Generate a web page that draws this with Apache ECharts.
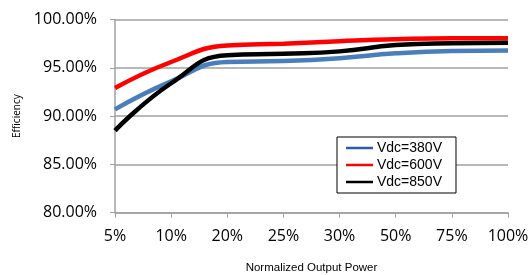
<!DOCTYPE html>
<html>
<head>
<meta charset="utf-8">
<script src="https://cdn.jsdelivr.net/npm/echarts@6/dist/echarts.min.js"></script>
<style>
  html, body { margin: 0; padding: 0; background: #fff; }
  #main { width: 530px; height: 275px; }
</style>
</head>
<body>
<div id="main"></div>
<script>
// normalized output power categories
const powerLevels = ['5%', '10%', '20%', '25%', '30%', '50%', '75%', '100%'];

// efficiency in percent
const vdc380 = [90.7, 93.6, 95.6, 95.7, 96.0, 96.5, 96.75, 96.8];
const vdc600 = [92.9, 95.6, 97.3, 97.5, 97.75, 97.95, 98.05, 98.05];
const vdc850 = [88.5, 93.4, 96.3, 96.45, 96.7, 97.35, 97.55, 97.6];

const seriesNames = ['Vdc=380V', 'Vdc=600V', 'Vdc=850V'];

const chart = echarts.init(document.getElementById('main'));

function lineSeries(name, data, color) {
  return {
    name: name,
    type: 'line',
    data: data,
    smooth: true,
    showSymbol: false,
    lineStyle: { color: color, width: 4.5 },
    itemStyle: { color: color },
    z: 3
  };
}

chart.setOption({
  animation: false,
  grid: {
    left: 115, right: 22, top: 19.5, bottom: 62.3,
    containLabel: false,
    outerBoundsMode: 'none'
  },
  legend: {
    orient: 'vertical',
    left: 337,
    top: 137,
    padding: [4, 14, 4, 9],
    itemGap: 3,
    itemWidth: 27,
    itemHeight: 2.5,
    icon: 'rect',
    backgroundColor: '#fff',
    borderColor: '#000',
    borderWidth: 1,
    borderRadius: 0,
    textStyle: { fontFamily: 'Liberation Sans', fontSize: 14, color: '#000', padding: [0, 0, 0, -1] },
    data: [
      { name: seriesNames[0], itemStyle: { color: '#2d5ba5' } },
      { name: seriesNames[1], itemStyle: { color: '#ff0000' } },
      { name: seriesNames[2], itemStyle: { color: '#000000' } }
    ]
  },
  xAxis: {
    type: 'category',
    data: powerLevels,
    boundaryGap: false,
    name: 'Normalized Output Power',
    nameLocation: 'middle',
    nameGap: 49,
    nameTextStyle: { fontFamily: 'Liberation Sans', fontSize: 11.5, color: '#000' },
    axisLine: { lineStyle: { color: '#a0a0a0', width: 1.5 } },
    axisTick: { show: true, alignWithLabel: true, length: 5, lineStyle: { color: '#a0a0a0' } },
    axisLabel: { margin: 16, fontFamily: 'Open Sans', fontSize: 16, color: '#000' },
    splitLine: { show: false }
  },
  yAxis: {
    type: 'value',
    min: 80,
    max: 100,
    interval: 5,
    name: 'Efficiency',
    nameLocation: 'middle',
    nameGap: 93,
    nameTextStyle: { fontFamily: 'Open Sans', fontSize: 10, color: '#000' },
    axisLine: { show: true, lineStyle: { color: '#a0a0a0', width: 1.5 } },
    axisTick: { show: true, length: 5, lineStyle: { color: '#a0a0a0' } },
    axisLabel: {
      margin: 18,
      fontFamily: 'Open Sans',
      fontSize: 16,
      color: '#000',
      formatter: function (v) { return v.toFixed(2) + '%'; }
    },
    splitLine: { lineStyle: { color: '#a0a0a0', width: 1.5 } }
  },
  series: [
    lineSeries(seriesNames[0], vdc380, '#4a7ebb'),
    lineSeries(seriesNames[1], vdc600, '#ff0000'),
    lineSeries(seriesNames[2], vdc850, '#000000')
  ]
});
</script>
</body>
</html>
